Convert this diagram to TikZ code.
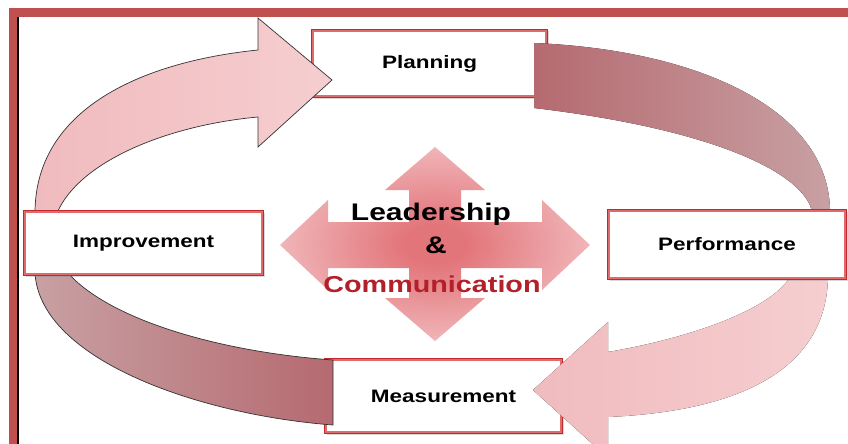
\documentclass[tikz,border=0pt]{standalone}
\usepackage{fontspec}
\setmainfont{Liberation Sans}
\newfontfamily\wb[FakeStretch=1.25]{Liberation Sans Bold}
\usetikzlibrary{shadows}
\definecolor{framered}{HTML}{C0504D}
\definecolor{boxred}{HTML}{C02A2C}
\definecolor{boxin}{HTML}{E06A6C}
\definecolor{lightA}{HTML}{F0BBBE}
\definecolor{lightB}{HTML}{F6CED0}
\definecolor{darkA}{HTML}{B56A70}
\definecolor{darkB}{HTML}{C8A0A3}
\definecolor{commred}{HTML}{B3202A}
\definecolor{crossC}{HTML}{E2757A}
\definecolor{crossE}{HTML}{F7D2D4}
\pgfdeclareradialshading{crossglow}{\pgfpoint{0bp}{0bp}}{color(0bp)=(crossC); color(5bp)=(crossC); color(34bp)=(crossE); color(50bp)=(crossE)}
\tikzset{
  stagebox/.style={rectangle, draw=boxred, line width=2.2pt, fill=white, inner sep=0pt,
    font=\wb\fontsize{18}{20}\selectfont, text=black,
    drop shadow={shadow xshift=1.5pt, shadow yshift=-1.5pt, opacity=0.3}},
  innerline/.style={draw=boxin, line width=1.5pt},
  lightarrow/.style={left color=lightA, right color=lightB},
  darkband/.style={left color=darkA, right color=darkB},
  outline/.style={draw=black!80, line width=0.7pt},
  centertext/.style={inner sep=0pt, font=\wb\fontsize{24}{26}\selectfont}
}
\begin{document}
\begin{tikzpicture}[x=1pt,y=-1pt]
\useasboundingbox (0,0) rectangle (848,444);
\fill[white] (0,0) rectangle (848,444);
% frame
\fill[framered] (9,8) rectangle (848,17);
\fill[framered] (9,8) rectangle (17,444);
\draw[black, line width=1.3pt] (18,17) -- (18,444);

% boxes lying under arrows
\node[stagebox, minimum width=235pt, minimum height=67pt] (plan) at (429.5,63.5) {Planning};
\node[stagebox, minimum width=237pt, minimum height=74pt] (meas) at (443.5,396) {Measurement};
\foreach \b in {plan,meas}
  \draw[innerline] ([xshift=1.9pt,yshift=-1.9pt]\b.north west) rectangle ([xshift=-1.9pt,yshift=1.9pt]\b.south east);

% center four-way arrow
\path[shading=crossglow] (435,147) -- (485,190) -- (461,190) -- (461,222) -- (542,222) -- (542,200)
  -- (590,245) -- (542,290) -- (542,268) -- (461,268) -- (461,298) -- (485,298) -- (435,341)
  -- (385,298) -- (409,298) -- (409,268) -- (328,268) -- (328,290) -- (280,245) -- (328,200)
  -- (328,222) -- (409,222) -- (409,190) -- (385,190) -- cycle;

% Improvement -> Planning (light arrow)
\draw[lightarrow, outline] (35,213) .. controls (35,110) and (140,62) .. (258,50) -- (258,18) -- (332,80)
  -- (258,147) -- (258,117) .. controls (170,125) and (80,160) .. (57,213) -- cycle;
% Planning -> Performance (dark band)
\fill[darkband] (534,43) .. controls (700,50) and (830,110) .. (830,212) -- (812,212)
  .. controls (805,175) and (720,130) .. (534,108) -- cycle;
% Performance -> Measurement (light arrow)
\fill[left color=lightA, right color=lightB] (828,277) .. controls (826,380) and (720,412) .. (608,417) -- (608,458) -- (533,390)
  -- (608,322) -- (608,352) .. controls (690,338) and (770,310) .. (790,277) -- cycle;
% Measurement -> Improvement (dark band)
\draw[left color=darkB, right color=darkA, outline] (35,273) .. controls (40,360) and (200,415) .. (333,425)
  -- (333,360) .. controls (220,352) and (110,320) .. (68,273) -- cycle;

% boxes above arrows
\node[stagebox, minimum width=239pt, minimum height=64pt] (impr) at (143.5,243) {Improvement};
\node[stagebox, minimum width=238pt, minimum height=69pt] (perf) at (727,244.5) {Performance};
\foreach \b in {impr,perf}
  \draw[innerline] ([xshift=1.9pt,yshift=-1.9pt]\b.north west) rectangle ([xshift=-1.9pt,yshift=1.9pt]\b.south east);

% center texts
\node[centertext, anchor=base] (lead) at (431,220) {Leadership};
\node[centertext, anchor=base] (amp) at (436,253) {\&};
\node[centertext, anchor=base, text=commred, font=\wb\fontsize{23}{25}\selectfont] (comm) at (432,292) {Communication};
\end{tikzpicture}
\end{document}
